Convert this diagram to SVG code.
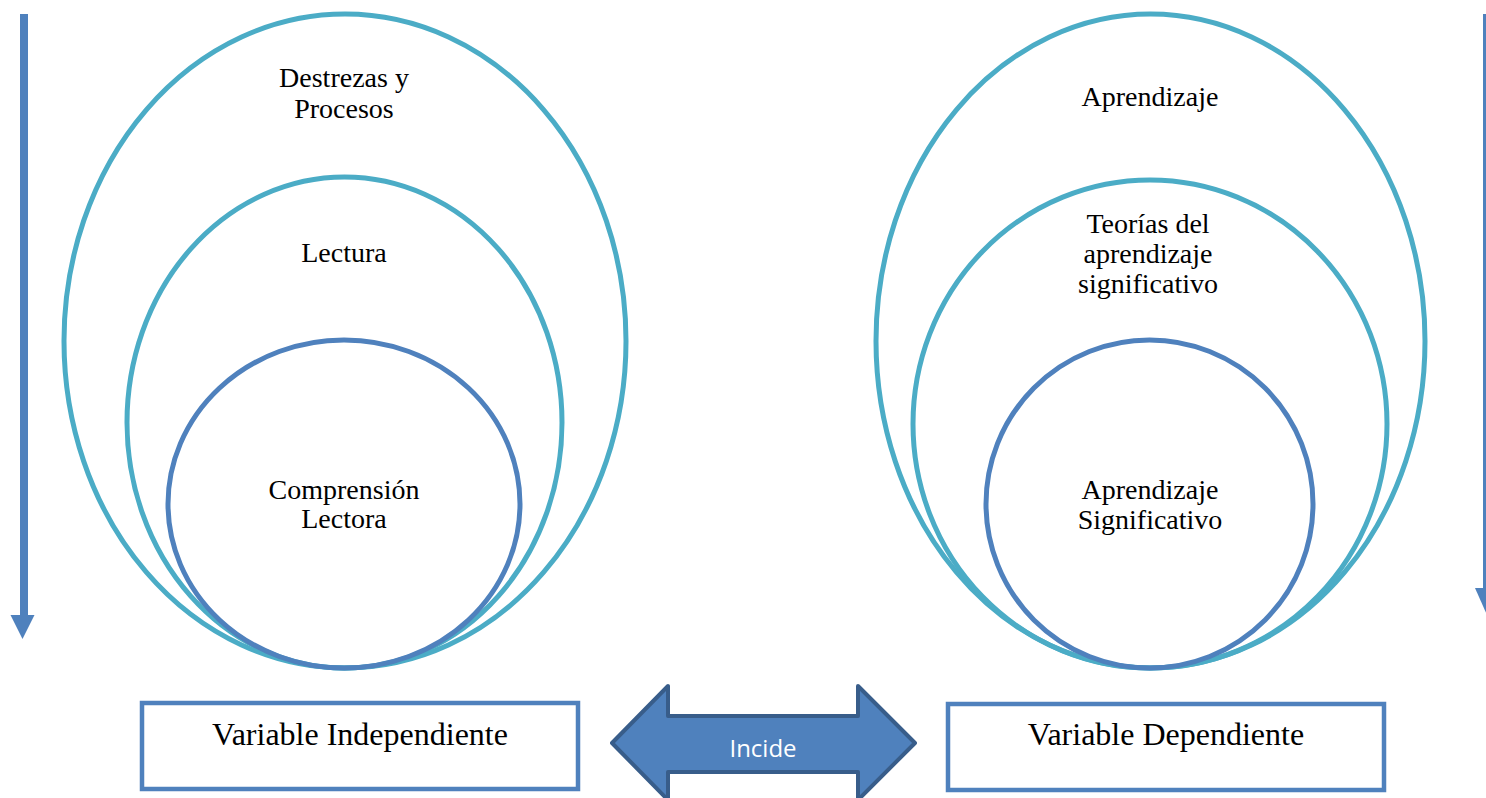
<svg xmlns="http://www.w3.org/2000/svg" width="1486" height="798" viewBox="0 0 1486 798">
<style>
.teal{fill:none;stroke:#4bacc6;stroke-width:5}
.blue{fill:none;stroke:#4f81bd;stroke-width:5}
.t{font-family:"Liberation Serif","Times New Roman",serif;font-size:28px;fill:#000;text-anchor:middle}
.bt{font-family:"Liberation Serif","Times New Roman",serif;font-size:32px;fill:#000;text-anchor:middle}
.box{fill:#fff;stroke:#4f81bd;stroke-width:4.5}
.arr{fill:#4f81bd}
</style>
<rect width="1486" height="798" fill="#fff"/>
<g id="left-circles">
<ellipse class="teal" cx="345" cy="341" rx="281" ry="327"/>
<ellipse class="teal" cx="344.5" cy="422.5" rx="217.5" ry="245.5"/>
<ellipse class="blue" cx="344" cy="504" rx="176" ry="164"/>
<text class="t" x="344" y="87">Destrezas  y</text>
<text class="t" x="344" y="118">Procesos</text>
<text class="t" x="344" y="262">Lectura</text>
<text class="t" x="344" y="499">Comprensión</text>
<text class="t" x="344" y="528">Lectora</text>
</g>
<g id="right-circles">
<ellipse class="teal" cx="1150.5" cy="341" rx="274.5" ry="327"/>
<ellipse class="teal" cx="1150" cy="424" rx="237" ry="244"/>
<ellipse class="blue" cx="1149.5" cy="504" rx="163.5" ry="164"/>
<text class="t" x="1150" y="106">Aprendizaje</text>
<text class="t" x="1148" y="233">Teorías del</text>
<text class="t" x="1148" y="263">aprendizaje</text>
<text class="t" x="1148" y="293">significativo</text>
<text class="t" x="1150" y="499">Aprendizaje</text>
<text class="t" x="1150" y="529">Significativo</text>
</g>
<g id="box-independiente">
<rect class="box" x="142" y="703" width="436" height="86"/>
<text class="bt" x="360" y="745">Variable Independiente</text>
</g>
<g id="box-dependiente">
<rect class="box" x="948" y="704" width="436" height="86"/>
<text class="bt" x="1166" y="745">Variable Dependiente</text>
</g>
<g id="connectors">
<rect class="arr" x="20" y="14" width="8" height="602"/>
<polygon class="arr" points="10.5,615 34.5,615 22.5,639"/>
<rect class="arr" x="1483" y="14" width="8" height="576"/>
<polygon class="arr" points="1475,588 1499,588 1487,615"/>
<g id="incide">
<polygon points="612,743 668,686 668,716 858,716 858,686 915,743 858,800 858,772 668,772 668,800" fill="#4f81bd" stroke="#385d8a" stroke-width="4" stroke-linejoin="round"/>
<text x="763" y="757" font-family="'Open Sans','Liberation Sans',sans-serif" font-size="24" fill="#fff" text-anchor="middle">Incide</text>
</g>
</g>
</svg>
